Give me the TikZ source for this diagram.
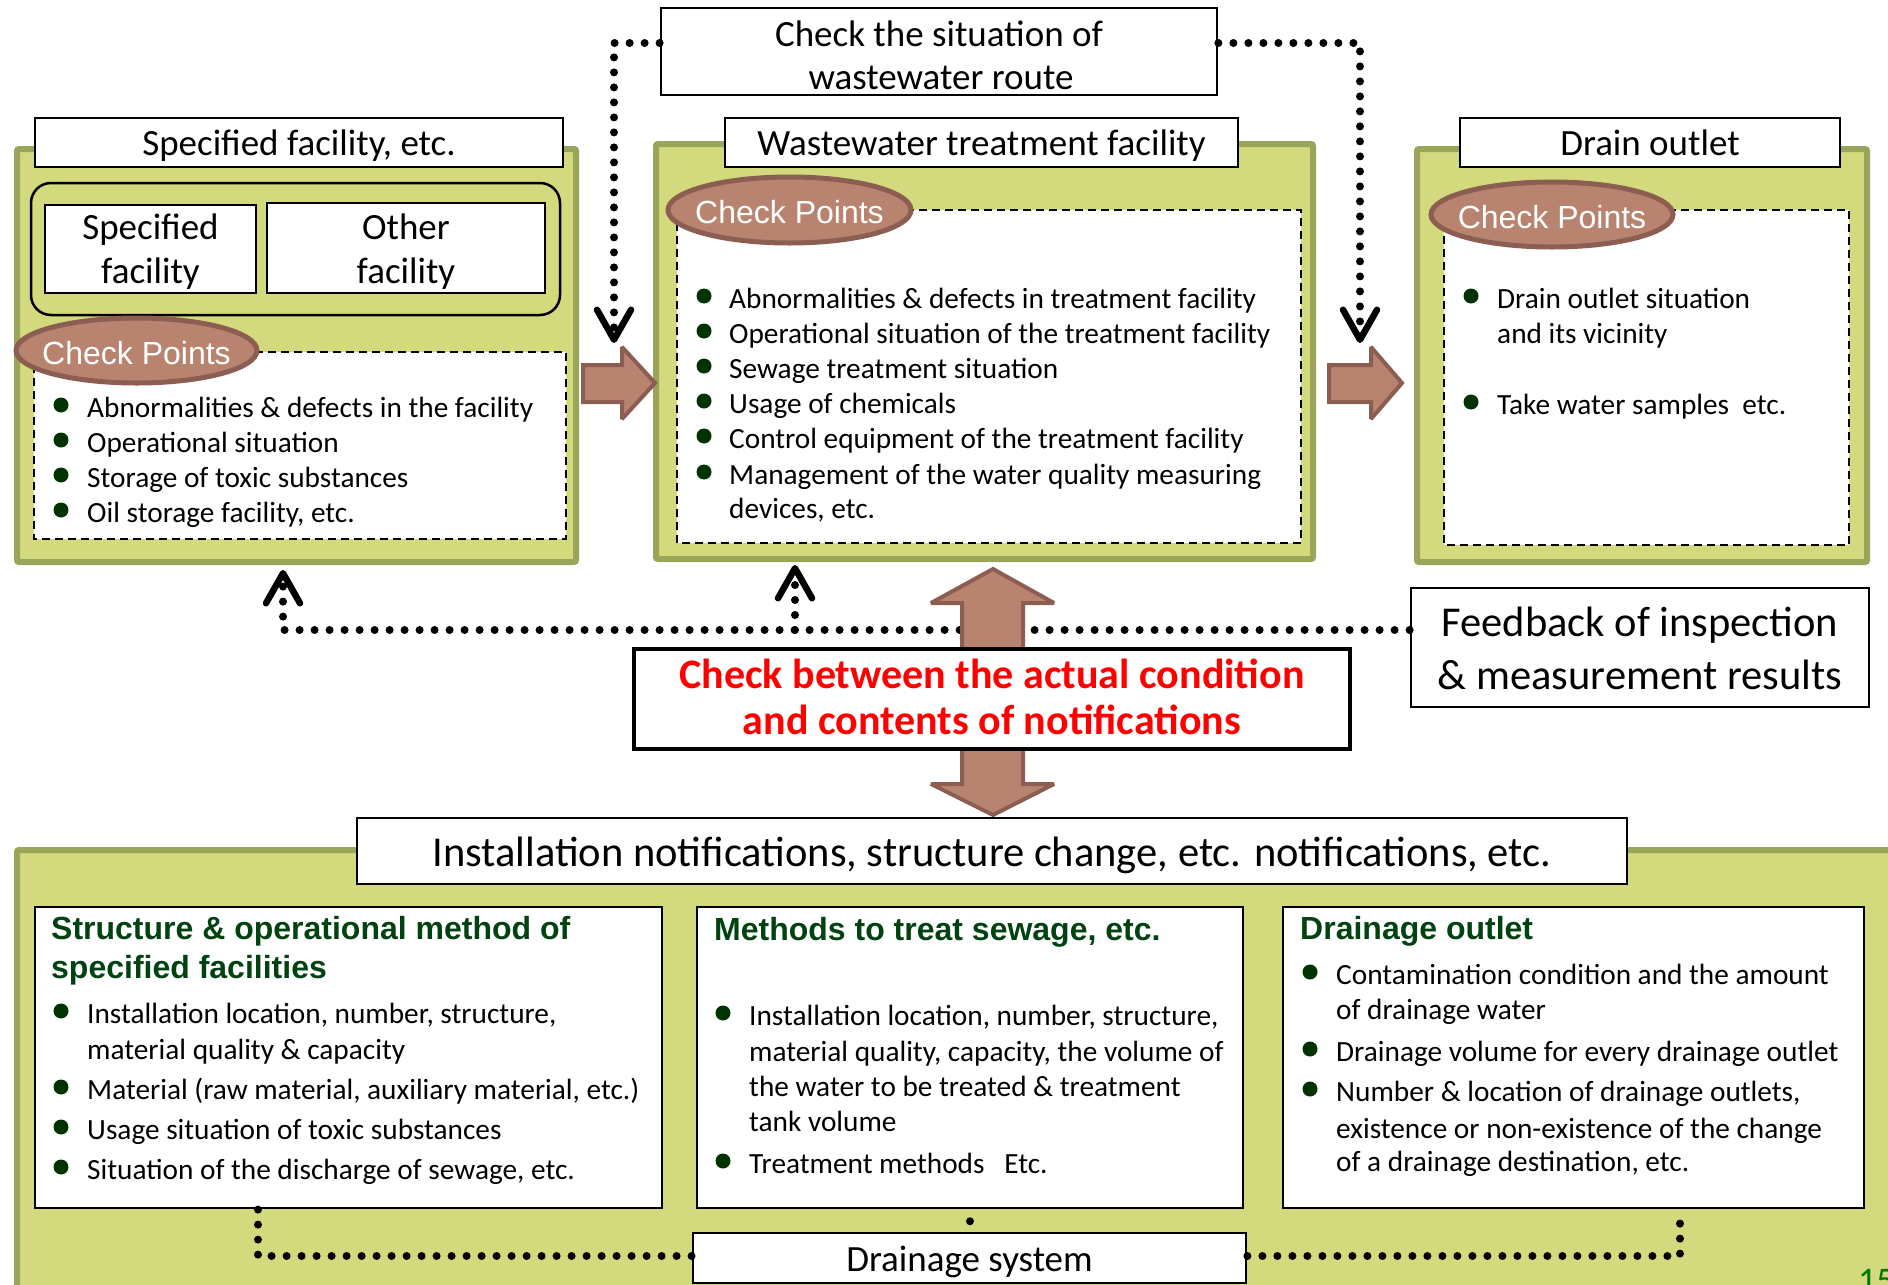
\documentclass[tikz,border=0pt]{standalone}
\usepackage{fontspec}
\setmainfont{Carlito}
\newfontfamily\arialfont{Liberation Sans}
\usetikzlibrary{arrows.meta}

\definecolor{panelgreen}{RGB}{211,218,125}
\definecolor{paneledge}{RGB}{155,165,90}
\definecolor{arrowbrown}{RGB}{184,132,112}
\definecolor{arrowedge}{RGB}{140,94,82}
\definecolor{bulletgreen}{RGB}{0,51,0}
\definecolor{headgreen}{RGB}{0,66,16}
\definecolor{pagegreen}{RGB}{0,120,0}

\tikzset{
  panel/.style={draw=paneledge, fill=panelgreen, line width=6pt, rounded corners=2pt},
  titlebox/.style={draw=black, fill=white, line width=2.8pt, inner sep=0pt,
    text height=32pt, text depth=6pt, font=\fontsize{37}{44}\selectfont},
  listbox/.style={draw=black, fill=white, line width=2.2pt, dash pattern=on 8pt off 5pt},
  cpoint/.style={draw=arrowedge, fill=arrowbrown, line width=5pt},
  cptext/.style={anchor=base, inner sep=0pt, yshift=-1.5pt, text=white, font=\arialfont\fontsize{32}{36}\selectfont},
  blockarrow/.style={draw=arrowedge, fill=arrowbrown, line width=4pt, miter limit=2},
  dotline/.style={line width=8pt, line cap=round, dash pattern=on 0pt off 15pt},
  fbtip/.style={-{Straight Barb[length=30pt, width=34pt, line width=6.5pt, round]}},
  linetext/.style={anchor=base west, inner sep=0pt, yshift=-1.5pt, font=\fontsize{29.3}{35}\selectfont},
  midtext/.style={anchor=base, inner sep=0pt, yshift=-1.5pt, font=\fontsize{37}{44}\selectfont},
  bigtext/.style={anchor=base, inner sep=0pt, yshift=-1.5pt, font=\fontsize{42.5}{50}\selectfont},
  dotmark/.style={circle, fill=bulletgreen, inner sep=0pt, minimum size=15pt},
  headtext/.style={anchor=base west, inner sep=0pt, yshift=-1.5pt, text=headgreen,
    font=\arialfont\bfseries\fontsize{32}{36}\selectfont},
}

% bullet list: name, bullet x, text x, {baseline/bullet/text,...}
\newcommand{\pointlist}[4]{%
  \foreach \ly/\lb/\lt in {#4}{%
    \ifnum\lb=1 \node[dotmark] (#1d\ly) at (#2,\ly-11) {};\fi
    \node[linetext] (#1t\ly) at (#3,\ly) {\lt};
  }}

\begin{document}
\begin{tikzpicture}[x=1pt, y=-1pt]
\useasboundingbox (0,0) rectangle (1888,1285);
\clip (0,0) rectangle (1888,1285);

% green panels
\draw[panel] (17,149) rectangle (576,562);
\draw[panel] (656,144) rectangle (1313,559);
\draw[panel] (1417,149) rectangle (1867,562);
\draw[panel] (17,850) rectangle (1950,1350);

% specified facility
\node[titlebox, minimum width=528pt, minimum height=49pt] (sfTitle) at (299,142.5) {Specified facility, etc.};
\draw[line width=2.5pt, rounded corners=20pt] (31,183) rectangle (560,315);
\node[titlebox, minimum width=211pt, minimum height=88pt] (spec) at (150.5,249) {};
\node[midtext] (specA) at (150.5,238) {Specified};
\node[midtext] (specB) at (150.5,282) {facility};
\node[titlebox, minimum width=278pt, minimum height=90pt] (other) at (406,248) {};
\node[midtext] (otherA) at (406,238) {Other};
\node[midtext] (otherB) at (406,282) {facility};
\draw[listbox] (34,352) rectangle (566,539);
\draw[cpoint] (136.5,350.5) ellipse [x radius=120.5, y radius=32.5];
\node[cptext] (cpL) at (136.5,363) {Check Points};
\pointlist{sf}{61}{87}{416/1/Abnormalities \& defects in the facility,
  451/1/Operational situation, 486/1/Storage of toxic substances,
  521/1/{Oil storage facility, etc.}}

% wastewater treatment facility
\node[titlebox, minimum width=513pt, minimum height=49pt] (wwTitle) at (981.5,142.5) {Wastewater treatment facility};
\draw[listbox] (677,210) rectangle (1301,543);
\draw[cpoint] (789.5,210) ellipse [x radius=121.5, y radius=33];
\node[cptext] (cpM) at (789.5,222) {Check Points};
\pointlist{ww}{704}{729}{307/1/Abnormalities \& defects in treatment facility,
  342/1/Operational situation of the treatment facility,
  377/1/Sewage treatment situation, 412/1/Usage of chemicals,
  447/1/Control equipment of the treatment facility,
  483/1/Management of the water quality measuring, 517/0/{devices, etc.}}

% drain outlet
\node[titlebox, minimum width=380pt, minimum height=49pt] (doTitle) at (1650,142.5) {Drain outlet};
\draw[listbox] (1444,210) rectangle (1849,545);
\draw[cpoint] (1552,214.5) ellipse [x radius=121, y radius=32.5];
\node[cptext] (cpR) at (1552,227) {Check Points};
\pointlist{do}{1471}{1497}{307/1/Drain outlet situation, 342/0/and its vicinity,
  413/1/Take water samples~~etc.}

% flow arrows
\draw[blockarrow] (583,365) -- (622,365) -- (622,347) -- (655,383) -- (622,419) -- (622,402) -- (583,402) -- cycle;
\draw[blockarrow] (1329,365) -- (1371,365) -- (1371,347) -- (1402,383) -- (1371,419) -- (1371,402) -- (1329,402) -- cycle;

% wastewater route
\node[titlebox, minimum width=556pt, minimum height=87pt] (route) at (939,51.5) {};
\node[midtext] (routeA) at (939,45) {Check the situation of};
\node[midtext] (routeB) at (941,88) {wastewater route};
\coordinate (rtl) at (614,43);
\coordinate (rtlEnd) at (614,343);
\coordinate (rtr) at (1360,43);
\coordinate (rtrEnd) at (1360,343);
\draw[dotline, fbtip] (route.west |- rtl) -- (rtl) -- (rtlEnd);
\draw[dotline, fbtip] (route.east |- rtr) -- (rtr) -- (rtrEnd);

% feedback
\node[draw, fill=white, line width=2.8pt, minimum width=458pt, minimum height=119pt] (fb) at (1640,647.5) {};
\node[bigtext] (fbA) at (1640,635) {Feedback of inspection};
\node[bigtext] (fbB) at (1640,688) {\& measurement results};
\coordinate (fbl) at (283,630);
\coordinate (fblEnd) at (283,570);
\coordinate (fbm) at (795,630);
\coordinate (fbmEnd) at (795,565);
\draw[dotline, fbtip] (fb.west |- fbl) -- (fbl) -- (fblEnd);
\draw[dotline, fbtip] (fbm) -- (fbmEnd);

% check between
\draw[blockarrow] (993,569) -- (1054,603) -- (1023,603) -- (1023,784) -- (1054,784) -- (993,815)
  -- (931,784) -- (962,784) -- (962,603) -- (931,603) -- cycle;
\node[draw, fill=white, line width=4.5pt, minimum width=716pt, minimum height=100pt] (check) at (992,699) {};
\node[bigtext, text=red, font=\bfseries\fontsize{42}{46}\selectfont] (checkA) at (992,687) {Check between the actual condition};
\node[bigtext, text=red, font=\bfseries\fontsize{42}{46}\selectfont] (checkB) at (992,733) {and contents of notifications};

% notifications
\node[titlebox, font=\fontsize{42.5}{50}\selectfont, text height=37pt, text depth=6pt,
  minimum width=1270pt, minimum height=66pt] (notif) at (992,851) {Installation notifications, structure change, etc. notifications, etc.};
\node[draw, fill=white, line width=2.5pt, minimum width=627pt, minimum height=301pt] (boxA) at (348.5,1057.5) {};
\node[draw, fill=white, line width=2.5pt, minimum width=546pt, minimum height=301pt] (boxB) at (970,1057.5) {};
\node[draw, fill=white, line width=2.5pt, minimum width=581pt, minimum height=301pt] (boxC) at (1573.5,1057.5) {};

\node[headtext] (headA1) at (51,938) {Structure \& operational method of};
\node[headtext] (headA2) at (51,977) {specified facilities};
\pointlist{sa}{61}{87}{1022/1/{Installation location, number, structure,},
  1058/0/material quality \& capacity,
  1098/1/{Material (raw material, auxiliary material, etc.)},
  1138/1/Usage situation of toxic substances,
  1178/1/{Situation of the discharge of sewage, etc.}}

\node[headtext] (headB) at (714,939) {Methods to treat sewage, etc.};
\pointlist{sb}{723}{749}{1024/1/{Installation location, number, structure,},
  1060/0/{material quality, capacity, the volume of},
  1095/0/the water to be treated \& treatment, 1130/0/tank volume,
  1172/1/Treatment methods~~~Etc.}

\node[headtext] (headC) at (1300,938) {Drainage outlet};
\pointlist{sc}{1310}{1336}{983/1/Contamination condition and the amount,
  1018/0/of drainage water, 1060/1/Drainage volume for every drainage outlet,
  1100/1/{Number \& location of drainage outlets,},
  1137/0/existence or non-existence of the change,
  1170/0/{of a drainage destination, etc.}}

% drainage system
\coordinate (dsl) at (258,1256);
\coordinate (dsr) at (1680,1256);
\draw[dotline, dash phase=3pt] (boxB.south) -- (970,1233);
\node[titlebox, minimum width=553pt, minimum height=50pt] (drain) at (969.5,1258) {Drainage system};
\draw[dotline] (drain.west |- dsl) -- (dsl) -- (dsl |- boxA.south);
\draw[dotline] (drain.east |- dsr) -- (dsr) -- (dsr |- boxC.south);

\node[anchor=base west, inner sep=0pt, text=pagegreen, font=\fontsize{36}{40}\selectfont] (page) at (1858,1292) {15};
\end{tikzpicture}
\end{document}
